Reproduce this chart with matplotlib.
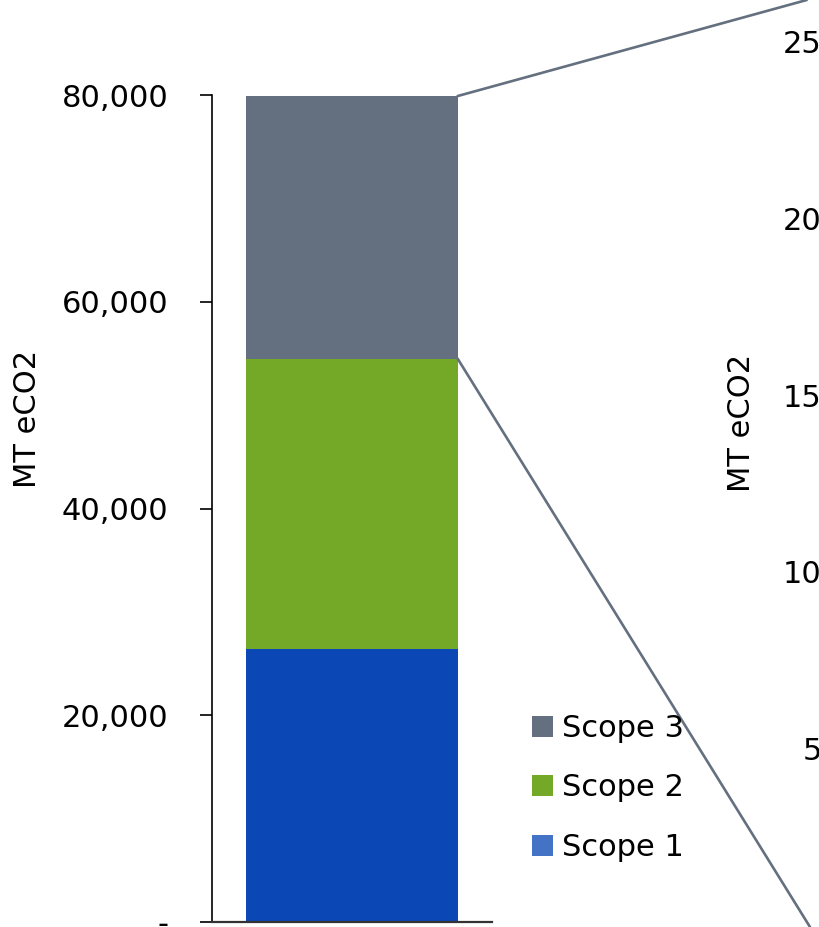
import matplotlib
matplotlib.use("Agg")
import matplotlib.pyplot as plt
from matplotlib.patches import Patch, ConnectionPatch
from matplotlib.ticker import FuncFormatter

# Emissions by scope (MT eCO2)
scopes = ["Scope 1", "Scope 2", "Scope 3"]
emissions = [26400, 28100, 25400]
bar_colors = ["#0B48B5", "#74A928", "#64707F"]
legend_colors = ["#4472C4", "#74A928", "#64707F"]

left_ticks = [0, 20000, 40000, 60000, 80000]
right_ticks = [0, 5000, 10000, 15000, 20000, 25000]
y_label = "MT eCO2"

plt.rcParams["font.family"] = ["DejaVu Sans"]
FS = 22
LINE = "#64707F"


def acct(v, _pos=None):
    # accounting style: dash for zero, thousands separator otherwise
    return "-" if v == 0 else f"{v:,.0f}"


fig = plt.figure(figsize=(8.19, 9.27), dpi=100)

# main stacked bar
ax = fig.add_axes([0.2589, 0.0054, 0.3419, 0.8921])
bottom = 0
for name, val, col in zip(scopes, emissions, bar_colors):
    ax.bar(0, val, width=0.754, bottom=bottom, color=col, linewidth=0, label=name)
    bottom += val

ax.set_xlim(-0.5, 0.5)
ax.set_ylim(0, 80000)
ax.set_yticks(left_ticks)
ax.yaxis.set_major_formatter(FuncFormatter(acct))
ax.set_xticks([])
ax.tick_params(axis="y", direction="out", length=8.6, width=1.2, pad=23,
               labelsize=FS, colors="black")
for s in ("top", "right"):
    ax.spines[s].set_visible(False)
ax.spines["left"].set_linewidth(1.2)
ax.spines["bottom"].set_linewidth(1.6)
ax.spines["bottom"].set_color("#333333")
ax.set_ylabel(y_label, fontsize=FS, va="center")
ax.yaxis.set_label_coords(28 / 819, 1 - 419 / 927, transform=fig.transFigure)

# second (zoomed) axis running off the right edge
ax2 = fig.add_axes([1.140, 0.0022, 0.30, 0.9525])
ax2.set_ylim(0, 25000)
ax2.set_yticks(right_ticks)
ax2.yaxis.set_major_formatter(FuncFormatter(acct))
ax2.set_xticks([])
ax2.tick_params(axis="y", direction="out", length=8.6, width=1.2, pad=23,
                labelsize=FS, colors="black")
for s in ("top", "right"):
    ax2.spines[s].set_visible(False)
ax2.set_ylabel(y_label, fontsize=FS, va="center")
ax2.yaxis.set_label_coords(742 / 819, 1 - 423 / 927, transform=fig.transFigure)

# callout lines from the Scope 3 segment out to the zoomed axis
bar_right = 0.754 / 2
s3_top = sum(emissions)
s3_base = emissions[0] + emissions[1]
for y_data, end in ((s3_top, (0.985, 1.0)), (s3_base, (0.989, 0.0))):
    con = ConnectionPatch(xyA=(bar_right, y_data), coordsA=ax.transData,
                          xyB=end, coordsB=fig.transFigure,
                          color=LINE, linewidth=1.9)
    fig.add_artist(con)

# legend, Scope 3 listed first
handles = [Patch(facecolor=c, edgecolor="none") for c in legend_colors][::-1]
fig.legend(handles, scopes[::-1], loc="center left",
           bbox_to_anchor=(532 / 819, 1 - 788 / 927), frameon=False,
           fontsize=FS, handlelength=0.69, handleheight=0.69,
           handletextpad=0.3, labelspacing=1.0, borderpad=0, borderaxespad=0)

fig.savefig("out.png", dpi=100)
